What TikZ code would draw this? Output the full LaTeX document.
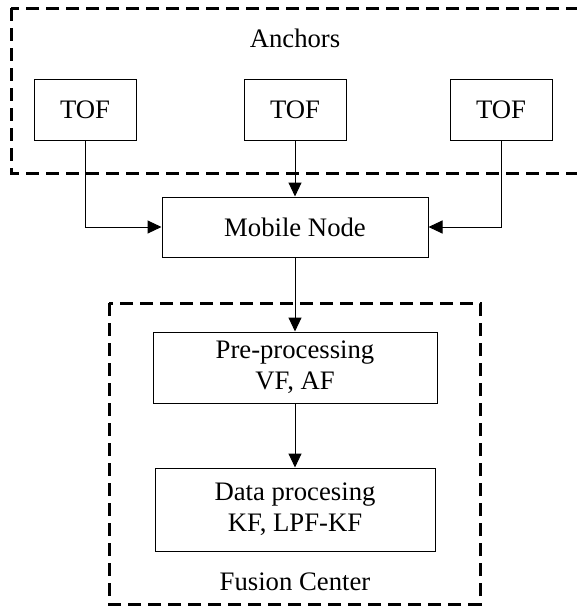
\documentclass[tikz,border=0pt]{standalone}
\usepackage{fontspec}
\setmainfont{Liberation Serif}
\usetikzlibrary{arrows.meta}
\begin{document}
\begin{tikzpicture}[x=1pt,y=-1pt,
  every node/.style={font=\fontsize{26.7}{31}\selectfont},
  blk/.style={draw,line width=1pt,inner sep=0pt,align=center},
  grp/.style={draw,line width=3pt,dash pattern=on 13pt off 7pt},
  conn/.style={line width=1pt,-{Triangle[length=14pt,width=13pt]}}]
\useasboundingbox (0,0) rectangle (577,608);
\clip (0,0) rectangle (577,608);
\draw[grp] (11,8) rectangle (590,173);
\draw[grp] (109,303) rectangle (480,604);
\node (anchors) at (295,38) {Anchors};
\node (fusion) at (295,582) {Fusion Center};
\node[blk,minimum width=102pt,minimum height=61pt] (t1) at (85,109.5) {TOF};
\node[blk,minimum width=102pt,minimum height=61pt] (t2) at (295,109.5) {TOF};
\node[blk,minimum width=102pt,minimum height=61pt] (t3) at (501,109.5) {TOF};
\node[blk,minimum width=266pt,minimum height=60pt] (mob) at (295,227) {Mobile Node};
\node[blk,minimum width=284pt,minimum height=71pt] (pre) at (295,367.5) {Pre-processing\\VF, AF};
\node[blk,minimum width=280pt,minimum height=83pt] (dat) at (295,509.5) {Data procesing\\KF, LPF-KF};
\draw[conn] (t1.south) |- (mob.west);
\draw[conn] (t2.south) -- (mob.north);
\draw[conn] (t3.south) |- (mob.east);
\draw[conn] (mob.south) -- (pre.north);
\draw[conn] (pre.south) -- (dat.north);
\end{tikzpicture}
\end{document}
